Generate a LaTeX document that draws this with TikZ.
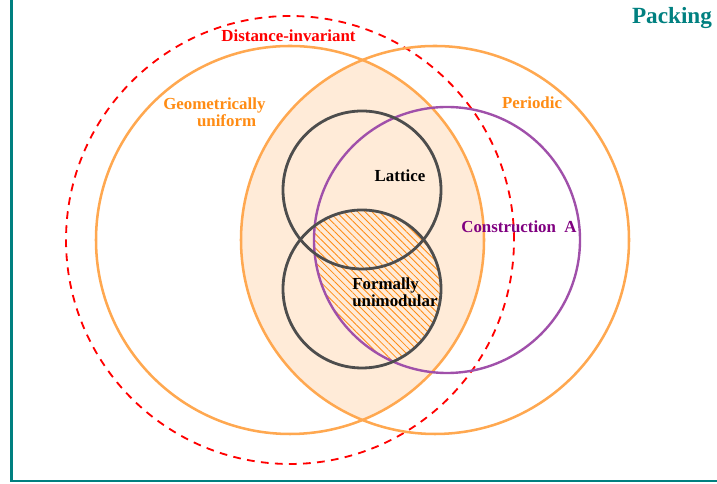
\documentclass[tikz,border=0pt]{standalone}
\usepackage{fontspec}
\setmainfont{Liberation Serif}
\usepackage{tikz}
\usetikzlibrary{patterns.meta}
\definecolor{packteal}{RGB}{0,128,128}
\definecolor{distred}{RGB}{255,0,0}
\definecolor{unifline}{RGB}{255,168,80}
\definecolor{uniftext}{RGB}{255,140,20}
\definecolor{lensfill}{RGB}{255,235,216}
\definecolor{latgray}{RGB}{77,77,77}
\definecolor{consline}{RGB}{160,80,170}
\definecolor{constext}{RGB}{128,0,128}
\tikzset{
    x=0.025cm, y=0.025cm, % one unit is one pixel of the target
    every node/.style={font=\bfseries\fontsize{12}{10.5}\selectfont, inner sep=0pt}, % bold labels
    setline/.style={line width=1.8pt}, % outline of each set
    frameline/.style={packteal, line width=1.7pt}, % the packing frame
}

\begin{document}
\begin{tikzpicture}
    \useasboundingbox (0,0) rectangle (717,484);

    % shaded lens of the two orange sets
    \begin{scope}
        \clip (290,244) circle (194);
        \fill[lensfill] (435,244) circle (194);
    \end{scope}
    % hatched part: formally unimodular and construction A
    \begin{scope}
        \clip (362,195) circle (79);
        \fill[pattern={Lines[angle=-45, distance=3.6pt, line width=0.6pt]}, pattern color=uniftext]
            (447,244) circle (133);
    \end{scope}

    \draw[frameline] (11.5,490) |- (725,3);
    \draw[setline, distred, line width=1.3pt, dash pattern=on 5.5pt off 4.5pt] (290,244) circle (224);
    \draw[setline, unifline] (290,244) circle (194);
    \draw[setline, unifline] (435,244) circle (194);
    \draw[setline, consline, line width=1.7pt] (447,244) circle (133);
    \draw[setline, latgray, line width=2pt] (362,294) circle (79);
    \draw[setline, latgray, line width=2pt] (362,195) circle (79);

    \node[text=distred] (dist) at (288.5,448) {Distance-invariant};
    \node[text=uniftext, align=left, anchor=west] (geom) at (163,372)
        {Geometrically\\\hspace*{24pt}uniform};
    \node[text=uniftext] (peri) at (532,381) {Periodic};
    \node (latt) at (400,308) {Lattice};
    \node[text=constext] (cons) at (519,257) {Construction\ \ A};
    \node[align=left, anchor=west] (form) at (352,192) {Formally\\unimodular};
    \node[text=packteal, font=\bfseries\fontsize{16.5}{18}\selectfont] (pack) at (672,466) {Packing};
\end{tikzpicture}
\end{document}
